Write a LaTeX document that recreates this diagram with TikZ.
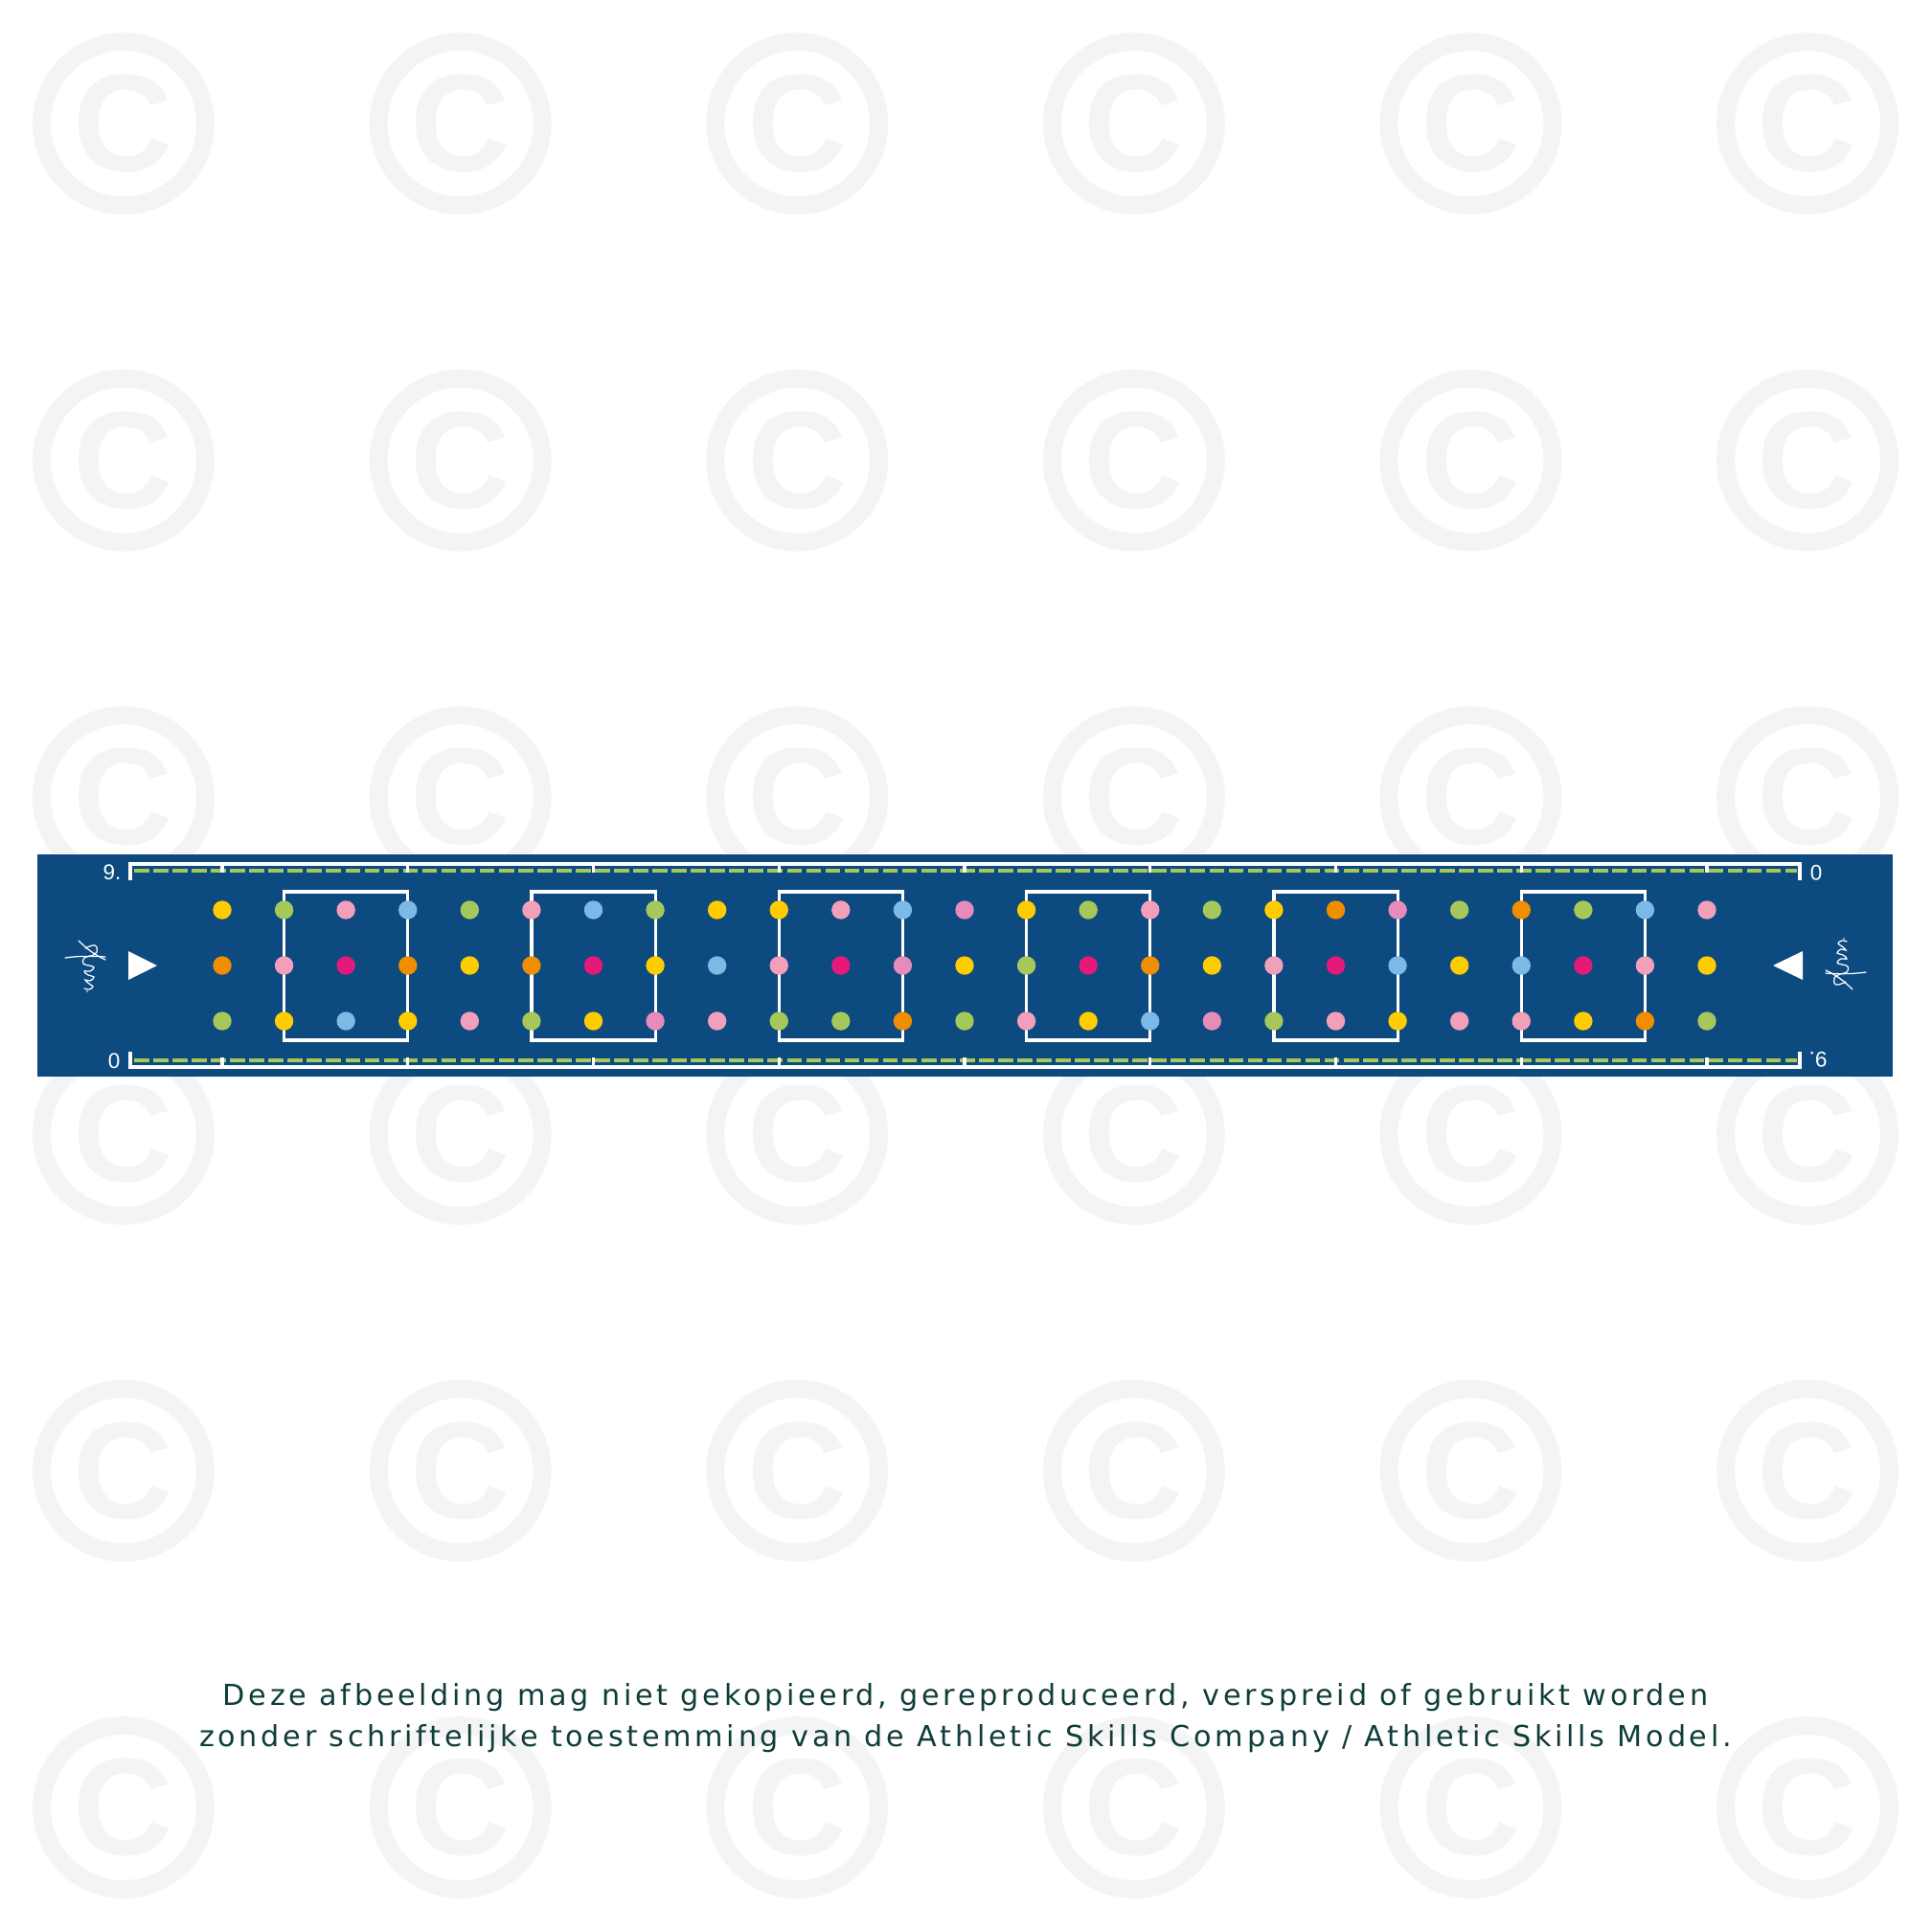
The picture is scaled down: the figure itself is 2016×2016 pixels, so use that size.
\documentclass[tikz,border=0pt]{standalone}
\usepackage{fontspec}
\newfontfamily\notefont[LetterSpace=12.3]{DejaVu Sans}
\newfontfamily\markfont{Liberation Sans}
\newfontfamily\numfont{Liberation Sans}

\definecolor{fieldblue}{HTML}{0C4A80}
\definecolor{wmgrey}{HTML}{F4F4F4}
\definecolor{notegreen}{HTML}{0F3D3A}
\definecolor{dotY}{HTML}{FFCC00}
\definecolor{dotG}{HTML}{A6C85A}
\definecolor{dotP}{HTML}{F2A0B9}
\definecolor{dotQ}{HTML}{E68BBA}
\definecolor{dotB}{HTML}{7DB9E6}
\definecolor{dotO}{HTML}{F08E00}
\definecolor{dotM}{HTML}{E5197A}

\tikzstyle{wmark} = [draw=wmgrey, line width=5.4pt]
\tikzstyle{wmletter} = [text=wmgrey, inner sep=0pt,
  font=\markfont\bfseries\fontsize{41pt}{41pt}\selectfont]
\tikzstyle{field} = [draw=white, line width=0.9pt]
\tikzstyle{lane} = [draw=dotG, line width=1.15pt, dash pattern=on 4.45pt off 1.25pt]
\tikzstyle{sign} = [draw=white, line width=0.35pt, line cap=round]
\tikzstyle{meter} = [text=white, inner sep=0pt,
  font=\numfont\fontsize{6.4pt}{6.4pt}\selectfont]
\tikzstyle{note} = [text=notegreen, inner sep=0pt,
  font=\notefont\fontsize{8.6pt}{10pt}\selectfont]

%% the little signature next to each start triangle
\newcommand{\asmsign}{%
  \draw[sign] (-7,-26) .. controls (2,-17) and (10,-11) .. (21,-6);
  \draw[sign] (-21,-8) .. controls (-8,-10) and (8,-10) .. (21,-9);
  \draw[sign] plot[smooth, tension=0.8] coordinates {(0,-18) (10,-21) (12,-14)
    (6,-10) (-1,-8) (-2,-2) (4,0) (9,2) (5,6) (-1,6) (3,10) (9,12) (5,16)
    (0,15) (4,19) (8,22) (4,25) (-1,24)};
  \fill[white] (2,27) circle (0.9);
}

\begin{document}
\begin{tikzpicture}[x=0.01cm, y=-0.01cm]

  \useasboundingbox (0,0) rectangle (2016,2016);

  %% copyright watermarks
  \foreach \i in {0,...,5} {
    \foreach \j in {0,...,5} {
      \draw[wmark] ({129+351.6*\i},{129+351.6*\j}) circle (85.5);
      \node (wm\i\j) [wmletter] at ({129+351.6*\i},{129+351.6*\j}) {C};
    }
  }

  %% the lane
  \fill[fieldblue] (39,892) rectangle (1976,1124);

  %% dashed side lines
  \draw[lane] (140,909) -- (1876,909);
  \draw[lane] (140,1107) -- (1876,1107);

  %% outer lines with the metre ticks
  \draw[field] (136,919) -- (136,902) -- (1879,902) -- (1879,919);
  \draw[field] (136,1098) -- (136,1114) -- (1879,1114) -- (1879,1098);
  \foreach \k in {0,3,...,24} {
    \draw[field] ({232+64.583*\k},902) -- ({232+64.583*\k},911);
    \draw[field] ({232+64.583*\k},1104) -- ({232+64.583*\k},1114);
  }

  \node (m9l) [meter, anchor=base east] at (127,918) {9.};
  \node (m0l) [meter, anchor=base east] at (126,1115) {0};
  \node (m0r) [meter, anchor=base east, rotate=180] at (1889,903) {0};
  \node (m9r) [meter, anchor=base east, rotate=180] at (1888,1098) {9.};

  %% boxes
  \foreach \c in {1,5,9,13,17,21} {
    \draw[field] ({232+64.583*\c},931) rectangle ({232+64.583*(\c+2)},1086);
  }

  %% dots, top / middle / bottom row per column
  \foreach \t/\m/\b [count=\i from 0] in {Y/O/G, G/P/Y, P/M/B, B/O/Y, G/Y/P,
      P/O/G, B/M/Y, G/Y/Q, Y/B/P, Y/P/G, P/M/G, B/Q/O, Q/Y/G, Y/G/P, G/M/Y,
      P/O/B, G/Y/Q, Y/P/G, O/M/P, Q/B/Y, G/Y/P, O/B/P, G/M/Y, B/P/O, P/Y/G} {
    \fill[dot\t] ({232+64.583*\i},950) circle (9.7);
    \fill[dot\m] ({232+64.583*\i},1008) circle (9.7);
    \fill[dot\b] ({232+64.583*\i},1066) circle (9.7);
  }

  %% start triangles
  \fill[white] (134,993) -- (134,1023) -- (164,1008) -- cycle;
  \fill[white] (1882,993) -- (1882,1023) -- (1851,1008) -- cycle;

  \begin{scope}[shift={(89,1008)}]
    \asmsign
  \end{scope}
  \begin{scope}[shift={(1927,1007)}, rotate=180]
    \asmsign
  \end{scope}

  %% notice
  \node (note1) [note, anchor=base] at (1008,1780)
    {Deze afbeelding mag niet gekopieerd, gereproduceerd, verspreid of gebruikt worden};
  \node (note2) [note, anchor=base] at (1008,1823)
    {zonder schriftelijke toestemming van de Athletic Skills Company / Athletic Skills Model.};

\end{tikzpicture}
\end{document}
